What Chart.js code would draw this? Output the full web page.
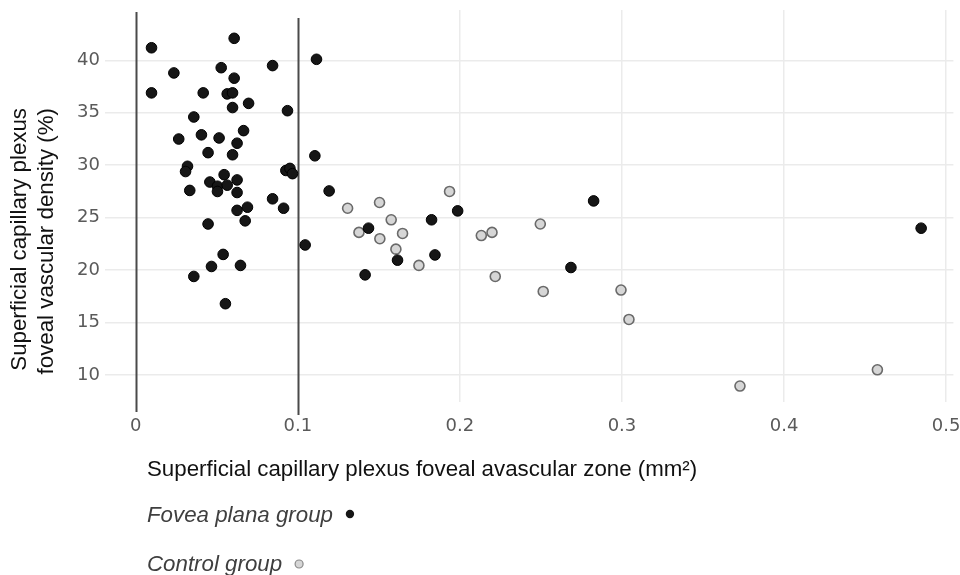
<!DOCTYPE html>
<html>
<head>
<meta charset="utf-8">
<script src="https://cdn.jsdelivr.net/npm/chart.js@4.4.1/dist/chart.umd.min.js"></script>
<style>
  html, body { margin: 0; padding: 0; background: #ffffff; }
  #wrap { position: relative; width: 960px; height: 575px; }
  canvas { display: block; }
</style>
</head>
<body>
<div id="wrap"><canvas id="c" width="960" height="575"></canvas></div>
<script>
// ---- Data ----
const fpX = [0.0097, 0.0607, 0.0235, 0.0527, 0.0844, 0.0607, 0.1115, 0.0097, 0.0416, 0.0564,
             0.0597, 0.0597, 0.0696, 0.0936, 0.0358, 0.0665, 0.0265, 0.0405, 0.0514, 0.0625,
             0.0446, 0.0597, 0.1105, 0.0319, 0.0307, 0.0926, 0.0951, 0.0967, 0.0545, 0.0457,
             0.0625, 0.0504, 0.0564, 0.0333, 0.0504, 0.0625, 0.0844, 0.0912, 0.0625, 0.0689,
             0.0675, 0.0446, 0.1045, 0.0539, 0.0467, 0.0646, 0.0358, 0.0553, 0.1193, 0.1436,
             0.1415, 0.1615, 0.1825, 0.1846, 0.1986, 0.2685, 0.2825, 0.4846];
const fpY = [41.2, 42.1, 38.8, 39.3, 39.5, 38.3, 40.1, 36.9, 36.9, 36.8,
             36.9, 35.5, 35.9, 35.2, 34.6, 33.3, 32.5, 32.9, 32.6, 32.1,
             31.2, 31.0, 30.9, 29.9, 29.4, 29.5, 29.7, 29.2, 29.1, 28.4,
             28.6, 28.0, 28.1, 27.6, 27.5, 27.4, 26.8, 25.9, 25.7, 26.0,
             24.7, 24.4, 22.4, 21.5, 20.35, 20.45, 19.4, 16.8, 27.55, 24.0,
             19.55, 20.95, 24.8, 21.45, 25.65, 20.25, 26.6, 24.0];
const ctrlX = [0.1307, 0.1504, 0.1936, 0.1576, 0.1377, 0.1506, 0.1646, 0.1605, 0.1747,
               0.2132, 0.2198, 0.2496, 0.2218, 0.2514, 0.2994, 0.3043, 0.3728, 0.4576];
const ctrlY = [25.9, 26.45, 27.5, 24.8, 23.6, 23.0, 23.5, 22.0, 20.45,
               23.3, 23.6, 24.4, 19.4, 17.97, 18.1, 15.3, 8.95, 10.5];
const xTicks = [0, 0.1, 0.2, 0.3, 0.4, 0.5];
const yTicks = [10, 15, 20, 25, 30, 35, 40];
const refLines = [0, 0.1];
const seriesNames = ['Fovea plana group', 'Control group'];
const xTitle = 'Superficial capillary plexus foveal avascular zone (mm\u00B2)';
const yTitle = ['Superficial capillary plexus', 'foveal vascular density (%)'];

const fpPoints = fpX.map((x, i) => ({ x: x, y: fpY[i] }));
const ctrlPoints = ctrlX.map((x, i) => ({ x: x, y: ctrlY[i] }));

const FP_FILL = '#161616', FP_BORDER = '#000000';
const CT_FILL = '#d6d6d6', CT_BORDER = '#6a6a6a';
const TEXT_FONT = '22.3px "Liberation Sans", Arial, sans-serif';

const extras = {
  id: 'extras',
  beforeDatasetsDraw(chart) {
    const ctx = chart.ctx, xs = chart.scales.x;
    ctx.save();
    ctx.strokeStyle = '#4a4a4a';
    ctx.lineWidth = 2;
    const tops = [12, 18];
    const bottoms = [412, 415];
    refLines.forEach((v, i) => {
      const px = Math.round(xs.getPixelForValue(v)) + 0.5;
      ctx.beginPath();
      ctx.moveTo(px, tops[i]);
      ctx.lineTo(px, bottoms[i]);
      ctx.stroke();
    });
    ctx.restore();
  },
  afterDraw(chart) {
    const ctx = chart.ctx;
    ctx.save();
    // Y title (rotated, two lines, aligned at top)
    ctx.fillStyle = '#111111';
    ctx.font = TEXT_FONT;
    ctx.textBaseline = 'middle';
    ctx.textAlign = 'right';
    [20, 47].forEach((cx, i) => {
      ctx.save();
      ctx.translate(cx, 108);
      ctx.rotate(-Math.PI / 2);
      ctx.fillText(yTitle[i], 0, 0);
      ctx.restore();
    });
    // X title
    ctx.textAlign = 'left';
    ctx.fillStyle = '#111111';
    ctx.font = TEXT_FONT;
    ctx.fillText(xTitle, 147, 470);
    // Legend
    ctx.fillStyle = '#3f3f3f';
    ctx.font = 'italic ' + TEXT_FONT;
    ctx.fillText(seriesNames[0], 147, 516);
    const w0 = ctx.measureText(seriesNames[0]).width;
    ctx.fillText(seriesNames[1], 147, 565);
    const w1 = ctx.measureText(seriesNames[1]).width;
    ctx.beginPath();
    ctx.arc(147 + w0 + 17, 514, 4.2, 0, Math.PI * 2);
    ctx.fillStyle = FP_FILL; ctx.fill();
    ctx.beginPath();
    ctx.arc(147 + w1 + 17, 564, 4, 0, Math.PI * 2);
    ctx.fillStyle = CT_FILL; ctx.fill();
    ctx.lineWidth = 1.2; ctx.strokeStyle = '#8a8a8a'; ctx.stroke();
    ctx.restore();
  }
};

new Chart(document.getElementById('c'), {
  type: 'scatter',
  data: {
    datasets: [
      {
        label: seriesNames[0],
        data: fpPoints,
        backgroundColor: FP_FILL,
        borderColor: FP_BORDER,
        borderWidth: 1,
        pointRadius: 5.3,
        pointHoverRadius: 5.3
      },
      {
        label: seriesNames[1],
        data: ctrlPoints,
        backgroundColor: CT_FILL,
        borderColor: CT_BORDER,
        borderWidth: 1.6,
        pointRadius: 5,
        pointHoverRadius: 5
      }
    ]
  },
  plugins: [extras],
  options: {
    responsive: false,
    animation: false,
    events: [],
    layout: { padding: { top: 10, right: 0, bottom: 0, left: 0 } },
    plugins: {
      legend: { display: false },
      tooltip: { enabled: false },
      title: { display: false }
    },
    scales: {
      x: {
        type: 'linear',
        min: -0.019,
        max: 0.5045,
        afterBuildTicks(scale) { scale.ticks = xTicks.map(v => ({ value: v })); },
        afterFit(scale) { scale.height = 173; scale.paddingLeft = 0; scale.paddingRight = 0; },
        border: { display: false },
        grid: {
          drawTicks: false,
          lineWidth: 1.5,
          color: (c) => (c.tick && refLines.includes(c.tick.value)) ? 'rgba(0,0,0,0)' : '#ebebeb'
        },
        ticks: {
          padding: 14,
          color: '#5a5a5a',
          font: { family: '"DejaVu Sans", Verdana, sans-serif', size: 18 },
          maxRotation: 0,
          callback: (v) => String(v)
        }
      },
      y: {
        type: 'linear',
        min: 7.43,
        max: 44.8,
        afterBuildTicks(scale) { scale.ticks = yTicks.map(v => ({ value: v })); },
        afterFit(scale) { scale.width = 105; scale.paddingTop = 0; scale.paddingBottom = 0; },
        border: { display: false },
        grid: { drawTicks: false, lineWidth: 1.5, color: '#ebebeb' },
        ticks: {
          padding: 5,
          color: '#5a5a5a',
          font: { family: '"DejaVu Sans", Verdana, sans-serif', size: 18 },
          callback: (v) => String(v)
        }
      }
    }
  }
});
</script>
</body>
</html>
